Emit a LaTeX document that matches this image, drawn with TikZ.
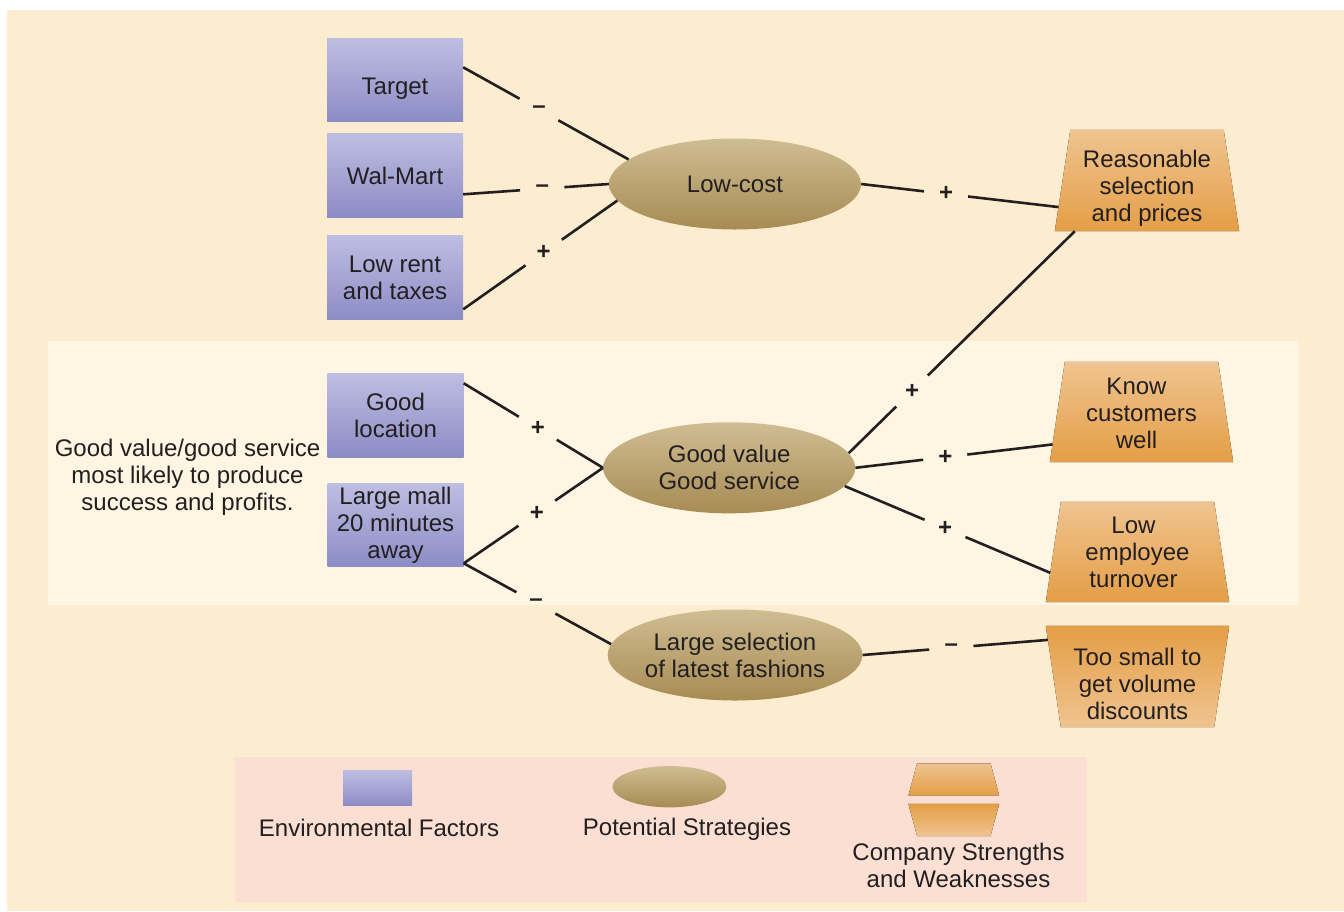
\documentclass[tikz,border=0pt]{standalone}
\usepackage{fontspec}
\setmainfont{Liberation Sans}
\usetikzlibrary{shapes.geometric,calc}

\pgfdeclarelayer{background}
\pgfsetlayers{background,main}

\definecolor{ink}{HTML}{231F20}
\definecolor{pagecream}{HTML}{FDEDD0}
\definecolor{bandcream}{HTML}{FEF6E2}
\definecolor{legendpink}{HTML}{FCDFD3}
\definecolor{envtop}{HTML}{BEBEE2}
\definecolor{envbot}{HTML}{8C8CC6}
\definecolor{strtop}{HTML}{CFBD93}
\definecolor{strbot}{HTML}{A78B53}
\definecolor{swlight}{HTML}{EFC490}
\definecolor{swdark}{HTML}{E49E46}

\tikzset{
  envbox/.style={rectangle, minimum width=136pt, minimum height=83.5pt,
    inner sep=0pt, top color=envtop, bottom color=envbot, align=center},
  strat/.style={ellipse, minimum width=252pt, minimum height=91pt,
    inner sep=0pt, top color=strtop, bottom color=strbot, align=center},
  % frame of a strength/weakness block; its slanted fill is drawn below
  swbox/.style={rectangle, minimum width=184pt, minimum height=101pt,
    inner sep=0pt, align=center},
  swupfill/.style={top color=swlight, bottom color=swdark},
  swdownfill/.style={top color=swdark, bottom color=swlight},
  sign/.style={circle, minimum size=44pt, inner sep=0pt,
    font=\fontsize{24}{27}\selectfont\bfseries},
  conn/.style={draw=ink, line width=2.6pt},
  plain/.style={align=center, inner sep=0pt}
}

% trapezoid narrow at the top / narrow at the bottom, on a node's frame
\newcommand\swUp[3][]{\fill[swupfill,#1] (#2.south west) -- (#2.south east)
  -- ([xshift=-#3]#2.north east) -- ([xshift=#3]#2.north west) -- cycle;}
\newcommand\swDown[3][]{\fill[swdownfill,#1] (#2.north west) -- (#2.north east)
  -- ([xshift=-#3]#2.south east) -- ([xshift=#3]#2.south west) -- cycle;}

\begin{document}
\begin{tikzpicture}[x=1pt, y=-1pt, text=ink,
  font=\fontsize{24}{27}\selectfont]
  \useasboundingbox (0,0) rectangle (1344,911);

  % backgrounds
  \begin{pgfonlayer}{background}
    \fill[pagecream] (7,10) rectangle (1344,911);
    \fill[bandcream] (48,341) rectangle (1299,605);
    \fill[legendpink] (235,757) rectangle (1087,902);
  \end{pgfonlayer}

  % environmental factors
  \node[envbox, text height=33pt] (target) at (395,80) {Target};
  \node[envbox] (walmart) at (395,175.5) {Wal-Mart};
  \node[envbox] (lowrent) at (395,277.5) {Low rent\\and taxes};
  \node[envbox] (goodloc) at (395.5,415.3) {Good\\location};
  \node[envbox] (largemall) at (395.5,525) {Large mall\\20 minutes\\away};

  % potential strategies
  \node[strat] (lowcost) at (735,184) {Low-cost};
  \node[strat] (goodvalue) at (729.2,467.8) {Good value\\Good service};
  \node[strat] (largesel) at (735,655) {Large selection\\of latest fashions};

  % company strengths and weaknesses
  \node[swbox, text height=87pt] (reasonable) at (1147,180.5) {Reasonable\\selection\\and prices};
  \node[swbox, minimum width=183pt, minimum height=100pt, text height=73.5pt] (know) at (1141.5,412)
    {Know\hspace*{10pt}\\customers\hspace*{10pt}\\well\hspace*{10pt}};
  \node[swbox, minimum width=183pt, minimum height=100pt] (lowturn) at (1137.5,552)
    {Low\hspace*{8pt}\\employee\hspace*{8pt}\\turnover\hspace*{8pt}};
  \node[swbox, minimum width=183pt, text height=86pt] (toosmall) at (1137.5,676.5) {Too small to\\get volume\\discounts};
  \begin{pgfonlayer}{background}
    \swUp{reasonable}{15.5pt}
    \swUp{know}{15pt}
    \swUp{lowturn}{15pt}
    \swDown{toosmall}{15pt}
  \end{pgfonlayer}

  % note
  \node[plain] (note) at (187.5,477) {Good value/good service\\most likely to produce\\success and profits.};

  % connection points on the slanted sides
  \coordinate (rsA) at ($(reasonable.south west)!0.238!([xshift=15.5pt]reasonable.north west)$);
  \coordinate (rsB) at ($(reasonable.south west)+(20,0)$);
  \coordinate (knA) at ($(know.south west)!0.177!([xshift=15pt]know.north west)$);
  \coordinate (ltA) at ($(lowturn.south west)!0.293!([xshift=15pt]lowturn.north west)$);
  \coordinate (tsA) at ($(toosmall.north west)!0.139!([xshift=15pt]toosmall.south west)$);

  % connectors with their signs
  \path ($(target.east)+(0,-12.7)$) -- node[sign,pos=0.458] (s1) {\textendash} (lowcost.167.5);
  \draw[conn] ($(target.east)+(0,-12.7)$) -- (s1);
  \draw[conn] (s1) -- (lowcost.167.5);

  \path ($(walmart.east)+(0,18.8)$) -- node[sign,pos=0.543] (s2) {\textendash} (lowcost.180);
  \draw[conn] ($(walmart.east)+(0,18.8)$) -- (s2);
  \draw[conn] (s2) -- (lowcost.180);

  \path ($(lowrent.east)+(0,31.8)$) -- node[sign,pos=0.522] (s3) {+} (lowcost.188.5);
  \draw[conn] ($(lowrent.east)+(0,31.8)$) -- (s3);
  \draw[conn] (s3) -- (lowcost.188.5);

  \path (lowcost.0) -- node[sign,pos=0.43] (s4) {+} (rsA);
  \draw[conn] (lowcost.0) -- (s4);
  \draw[conn] (s4) -- (rsA);

  \path (goodvalue.7.2) -- node[sign,pos=0.28] (s5) {+} (rsB);
  \draw[conn] (goodvalue.7.2) -- (s5);
  \draw[conn] (s5) -- (rsB);

  \path (goodvalue.0.5) -- node[sign,pos=0.456] (s6) {+} (knA);
  \draw[conn] (goodvalue.0.5) -- (s6);
  \draw[conn] (s6) -- (knA);

  \path (goodvalue.-9.6) -- node[sign,pos=0.488] (s7) {+} (ltA);
  \draw[conn] (goodvalue.-9.6) -- (s7);
  \draw[conn] (s7) -- (ltA);

  \path ($(goodloc.east)+(0,-32)$) -- node[sign,pos=0.532] (s8) {+} (goodvalue.180);
  \draw[conn] ($(goodloc.east)+(0,-32)$) -- (s8);
  \draw[conn] (s8) -- (goodvalue.180);

  \path ($(largemall.east)+(0,38.3)$) -- node[sign,pos=0.525] (s9) {+} (goodvalue.180);
  \draw[conn] ($(largemall.east)+(0,38.3)$) -- (s9);
  \draw[conn] (s9) -- (goodvalue.180);

  \path ($(largemall.east)+(0,38.3)$) -- node[sign,pos=0.49] (s10) {\textendash} (largesel.175.8);
  \draw[conn] ($(largemall.east)+(0,38.3)$) -- (s10);
  \draw[conn] (s10) -- (largesel.175.8);

  \path (largesel.0) -- node[sign,pos=0.479] (s11) {\textendash} (tsA);
  \draw[conn] (largesel.0) -- (s11);
  \draw[conn] (s11) -- (tsA);

  % legend
  \node[envbox, minimum width=69pt, minimum height=35.6pt] (legenv) at (377.5,788) {};
  \node[strat, minimum width=114pt, minimum height=41.3pt] (legstrat) at (669.4,786.7) {};
  \node[swbox, minimum width=90.4pt, minimum height=31.7pt] (legsw1) at (953.8,779.3) {};
  \node[swbox, minimum width=90.4pt, minimum height=31.7pt] (legsw2) at (953.8,820) {};
  \begin{pgfonlayer}{background}
    \swUp{legsw1}{8.7pt}
    \swDown{legsw2}{8.7pt}
  \end{pgfonlayer}
  \node[plain] (legenvtext) at (379,828) {Environmental Factors};
  \node[plain] (legstrattext) at (687,829.5) {Potential Strategies};
  \node[plain] (legswtext) at (958.5,865) {Company Strengths\\and Weaknesses};
\end{tikzpicture}
\end{document}
